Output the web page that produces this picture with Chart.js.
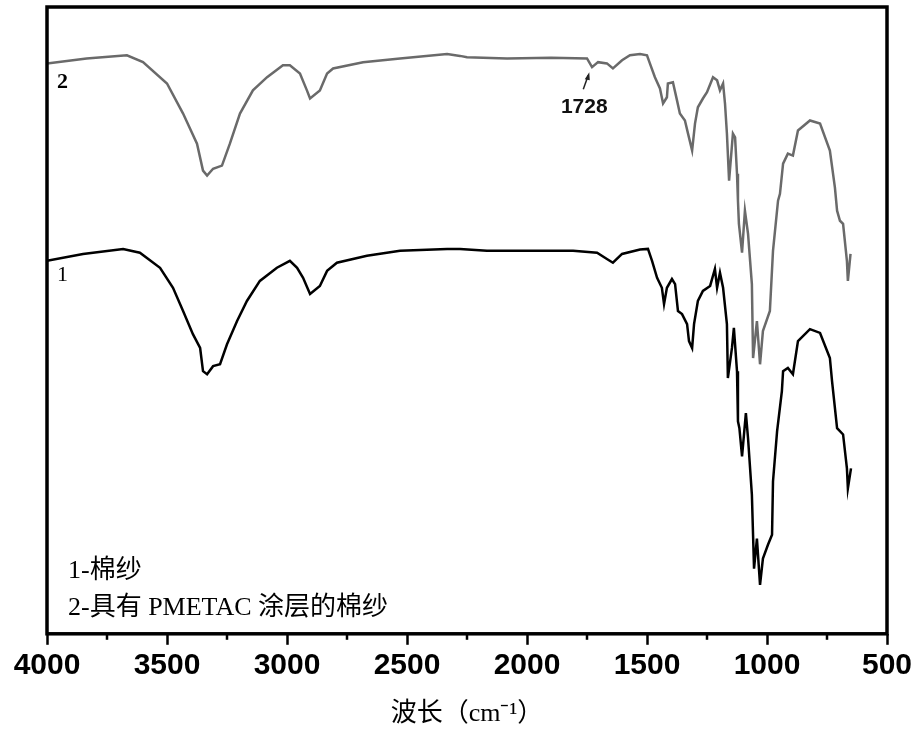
<!DOCTYPE html>
<html>
<head>
<meta charset="utf-8">
<script src="https://cdn.jsdelivr.net/npm/chart.js@4.4.0/dist/chart.umd.min.js"></script>
<style>
html,body{margin:0;padding:0;background:#fff;}
#wrap{width:918px;height:733px;}
</style>
</head>
<body>
<div id="wrap"><canvas id="c" width="918" height="733"></canvas></div>
<script>
// Curve 2: cotton yarn with PMETAC coating (grey)
const wavenumber2 = [4000,3835,3667,3600,3500,3433,3375,3350,3333,3308,3271,3238,3196,3142,3083,3017,2988,2946,2917,2904,2863,2833,2808,2683,2529,2333,2279,2250,2083,1900,1750,1729,1704,1667,1642,1604,1571,1529,1500,1488,1467,1446,1433,1417,1413,1392,1375,1363,1342,1329,1312,1300,1288,1267,1250,1225,1208,1196,1183,1175,1167,1158,1142,1133,1125,1121,1117,1104,1092,1079,1063,1058,1042,1029,1017,988,975,954,946,933,913,892,871,821,779,738,717,708,696,683,667,663,652];
const transmittance2 = [91.0,91.8,92.3,91.2,87.8,83.0,78.2,73.9,73.1,74.2,74.7,78.2,83.0,86.7,88.8,90.7,90.7,89.4,86.7,85.4,86.7,89.4,90.2,91.2,91.8,92.5,92.2,92.0,91.8,91.9,91.8,90.4,91.2,91.0,90.2,91.5,92.3,92.5,92.3,91.0,88.8,87.0,84.6,85.6,87.8,88.0,85.1,83.0,81.9,79.8,77.1,81.4,84.0,85.4,86.4,88.8,88.3,86.7,87.8,84.6,79.8,72.3,79.8,79.2,73.4,69.1,65.4,60.8,67.5,63.8,55.8,44.0,49.9,43.0,48.3,51.5,61.1,69.1,70.2,75.0,76.6,76.3,80.3,81.9,81.4,77.1,71.2,67.5,65.9,65.4,59.5,56.3,60.6];
// Curve 1: cotton yarn (black)
const wavenumber1 = [4000,3850,3683,3613,3529,3475,3433,3392,3362,3350,3333,3308,3279,3250,3208,3167,3113,3042,2988,2958,2933,2904,2863,2833,2792,2667,2529,2333,2279,2167,1808,1708,1667,1642,1604,1529,1496,1479,1458,1438,1429,1417,1396,1383,1371,1354,1333,1325,1312,1304,1288,1267,1237,1217,1208,1196,1183,1167,1163,1146,1138,1125,1121,1115,1104,1088,1079,1063,1054,1042,1029,1017,996,979,975,958,938,933,913,892,871,821,779,738,729,708,683,667,663,650];
const transmittance1 = [59.5,60.6,61.4,60.8,58.4,55.2,51.5,47.8,45.6,41.9,41.4,42.7,43.0,46.2,49.9,53.1,56.3,58.4,59.5,58.4,56.8,54.2,55.5,57.9,59.2,60.3,61.1,61.4,61.4,61.1,61.1,60.8,59.8,59.2,60.6,61.3,61.4,59.5,56.8,55.2,52.6,55.2,56.6,55.8,51.5,51.0,49.4,46.7,45.6,49.4,53.1,54.7,55.5,58.2,55.2,57.6,55.2,49.4,40.8,45.6,48.8,41.9,33.9,32.8,28.3,35.2,31.2,22.2,10.4,15.2,7.8,12.0,14.2,15.8,24.3,32.3,38.7,41.9,42.4,41.4,46.7,48.6,48.0,44.0,40.3,32.8,31.8,26.4,23.2,26.4];
// Axis ticks
const xMin = 500, xMax = 4000, xStep = 250, xLabelStep = 500;
const xTitle = '波长（cm⁻¹）';
const legendLines = ['1-棉纱', '2-具有 PMETAC 涂层的棉纱'];
const peakLabel = 1728;

const toXY = (xs, ys) => xs.map((x, i) => ({x: x, y: ys[i]}));

const serif = '"Liberation Serif", "Times New Roman", "Noto Sans CJK SC", serif';
const sans = '"Liberation Sans", Arial, sans-serif';

const decor = {
  id: 'decor',
  afterDraw(chart) {
    const ctx = chart.ctx, a = chart.chartArea, xs = chart.scales.x, ys = chart.scales.y;
    ctx.save();
    // minor ticks
    ctx.strokeStyle = '#000';
    ctx.lineWidth = 2.5;
    xs.ticks.forEach(t => {
      if (t.value % xLabelStep !== 0) {
        const px = xs.getPixelForValue(t.value);
        ctx.beginPath(); ctx.moveTo(px, a.bottom); ctx.lineTo(px, a.bottom + 6); ctx.stroke();
      }
    });
    // frame
    ctx.lineWidth = 3.5;
    ctx.strokeRect(a.left, a.top, a.right - a.left, a.bottom - a.top);
    // curve labels
    ctx.fillStyle = '#000';
    ctx.textAlign = 'left'; ctx.textBaseline = 'middle';
    ctx.font = 'bold 22px ' + serif;
    ctx.fillText('2', a.left + 10, ys.getPixelForValue(transmittance2[0]) + 19);
    ctx.font = '22px ' + serif;
    ctx.fillText('1', a.left + 10, ys.getPixelForValue(transmittance1[0]) + 14);
    // legend text
    ctx.font = '26px ' + serif;
    ctx.fillText(legendLines[0], a.left + 21, a.bottom - 63);
    ctx.fillText(legendLines[1], a.left + 21, a.bottom - 26);
    // 1728 annotation
    const px = xs.getPixelForValue(peakLabel);
    const py = ys.getPixelForValue(90.4);
    ctx.strokeStyle = '#222'; ctx.lineWidth = 1.5;
    ctx.beginPath(); ctx.moveTo(px - 9, py + 22); ctx.lineTo(px - 4, py + 8); ctx.stroke();
    ctx.fillStyle = '#222';
    ctx.beginPath(); ctx.moveTo(px - 3, py + 5); ctx.lineTo(px - 7.5, py + 12); ctx.lineTo(px - 2.5, py + 13); ctx.closePath(); ctx.fill();
    ctx.fillStyle = '#111';
    ctx.textAlign = 'center';
    ctx.font = 'bold 21px ' + sans;
    ctx.fillText(String(peakLabel), px - 8, py + 40);
    ctx.restore();
  }
};

new Chart(document.getElementById('c'), {
  type: 'line',
  data: {
    datasets: [
      {label: '2', data: toXY(wavenumber2, transmittance2), borderColor: '#6a6a6a', borderWidth: 2.5, pointRadius: 0, tension: 0, fill: false},
      {label: '1', data: toXY(wavenumber1, transmittance1), borderColor: '#000', borderWidth: 2.5, pointRadius: 0, tension: 0, fill: false}
    ]
  },
  options: {
    responsive: false,
    animation: false,
    events: [],
    layout: {padding: {left: 47, right: 31, top: 7, bottom: 3}},
    plugins: {legend: {display: false}, tooltip: {enabled: false}},
    scales: {
      x: {
        type: 'linear', reverse: true, min: xMin, max: xMax,
        border: {display: false},
        grid: {drawOnChartArea: false, drawTicks: true, tickLength: 11, tickWidth: 2.5,
               color: c => (c.tick && c.tick.value % xLabelStep === 0) ? '#000' : 'rgba(0,0,0,0)'},
        ticks: {stepSize: xStep, autoSkip: false, maxRotation: 0, padding: 3, color: '#000',
                font: {family: sans, size: 30, weight: 'bold'},
                callback: v => (v % xLabelStep === 0 ? String(v) : '')},
        title: {display: true, text: xTitle, color: '#000', font: {family: serif, size: 26}, padding: {top: 12, bottom: 0}}
      },
      y: {display: false, min: 0, max: 100}
    }
  },
  plugins: [decor]
});
</script>
</body>
</html>
